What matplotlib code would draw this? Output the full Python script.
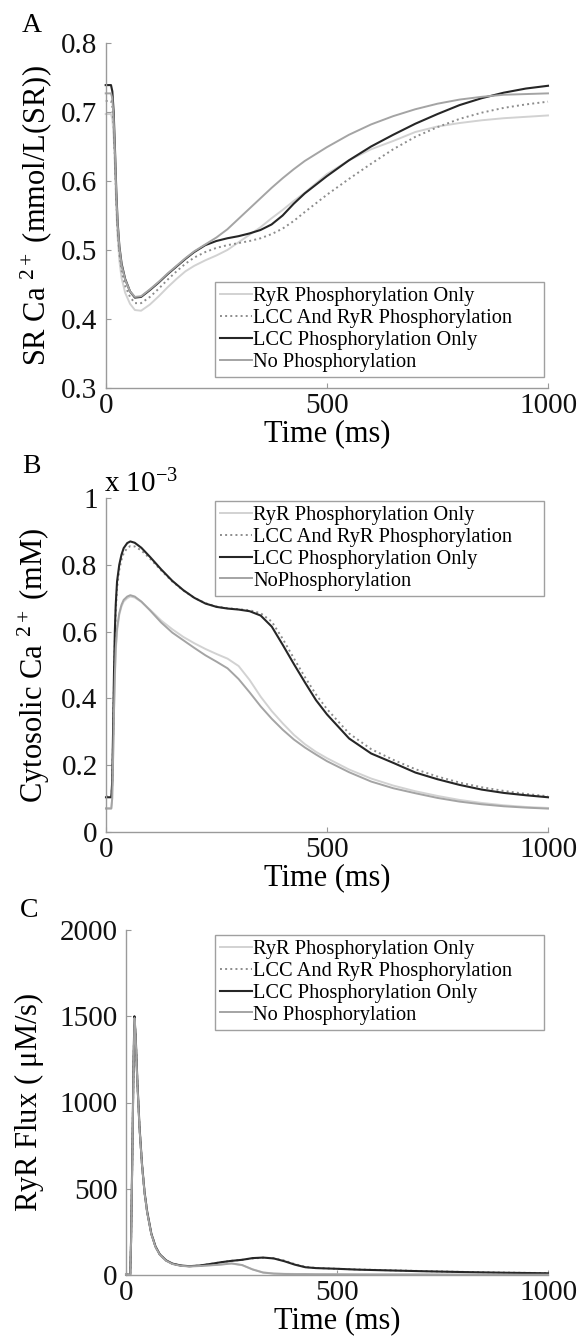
import matplotlib
matplotlib.use('Agg')
import matplotlib.pyplot as plt

plt.rcParams['font.family'] = ['Liberation Serif', 'DejaVu Serif']
plt.rcParams['mathtext.fontset'] = 'custom'
plt.rcParams['mathtext.rm'] = 'Liberation Serif'
plt.rcParams['mathtext.it'] = 'Liberation Serif:italic'
plt.rcParams['mathtext.bf'] = 'Liberation Serif:bold'

# ---------------- data ----------------
labels_A = ["RyR Phosphorylation Only", "LCC And RyR Phosphorylation",
            "LCC Phosphorylation Only", "No Phosphorylation"]
labels_B = ["RyR Phosphorylation Only", "LCC And RyR Phosphorylation",
            "LCC Phosphorylation Only", "NoPhosphorylation"]
labels_C = labels_A

# Panel A: SR Ca2+ (mmol/L(SR))
tA = [0, 12, 15, 18, 21, 24, 27, 31, 36, 44, 55, 66, 80, 100, 120, 140, 160, 180,
      200, 225, 250, 275, 300, 325, 350, 375, 400, 425, 450, 500, 550, 600, 650,
      700, 750, 800, 850, 900, 950, 1000]
sr_ryr = [0.697, 0.697, 0.690, 0.665, 0.620, 0.560, 0.518, 0.484, 0.459, 0.438, 0.422,
          0.413, 0.412, 0.421, 0.433, 0.446, 0.458, 0.469, 0.477, 0.485, 0.492, 0.500,
          0.511, 0.522, 0.533, 0.546, 0.558, 0.571, 0.583, 0.610, 0.630, 0.646, 0.658,
          0.671, 0.679, 0.684, 0.688, 0.691, 0.693, 0.695]
sr_both = [0.716, 0.716, 0.708, 0.680, 0.630, 0.570, 0.528, 0.494, 0.469, 0.448, 0.432,
           0.423, 0.423, 0.432, 0.444, 0.457, 0.469, 0.480, 0.489, 0.497, 0.503, 0.507,
           0.510, 0.513, 0.517, 0.523, 0.531, 0.542, 0.555, 0.580, 0.603, 0.625, 0.646,
           0.664, 0.678, 0.690, 0.699, 0.706, 0.711, 0.715]
sr_lcc = [0.739, 0.739, 0.730, 0.700, 0.645, 0.585, 0.540, 0.505, 0.480, 0.458, 0.440,
          0.431, 0.432, 0.442, 0.453, 0.465, 0.476, 0.487, 0.497, 0.507, 0.513, 0.517,
          0.520, 0.524, 0.529, 0.537, 0.550, 0.567, 0.582, 0.607, 0.630, 0.650, 0.667,
          0.683, 0.697, 0.710, 0.720, 0.728, 0.734, 0.738]
sr_none = [0.727, 0.727, 0.720, 0.690, 0.640, 0.580, 0.537, 0.503, 0.478, 0.457, 0.440,
           0.432, 0.433, 0.443, 0.454, 0.466, 0.477, 0.488, 0.498, 0.508, 0.518, 0.530,
           0.545, 0.560, 0.575, 0.590, 0.604, 0.617, 0.629, 0.649, 0.667, 0.682, 0.694,
           0.704, 0.712, 0.718, 0.722, 0.725, 0.726, 0.727]

# Panel B: cytosolic Ca2+ (x 10^-3 mM)
tB = [0, 12, 14, 16, 18, 20, 22, 25, 30, 35, 40, 48, 55, 65, 80, 100, 125, 150, 175,
      200, 225, 250, 275, 300, 325, 350, 375, 400, 425, 450, 475, 500, 550, 600, 650,
      700, 750, 800, 850, 900, 950, 1000]
cy_ryr = [0.072, 0.072, 0.100, 0.210, 0.350, 0.460, 0.540, 0.600, 0.650, 0.675, 0.690,
          0.700, 0.705, 0.702, 0.689, 0.665, 0.633, 0.607, 0.584, 0.565, 0.548, 0.533,
          0.519, 0.497, 0.455, 0.405, 0.362, 0.325, 0.291, 0.263, 0.240, 0.221, 0.187,
          0.160, 0.139, 0.122, 0.108, 0.096, 0.087, 0.080, 0.075, 0.072]
cy_both = [0.106, 0.106, 0.140, 0.280, 0.440, 0.570, 0.660, 0.730, 0.785, 0.815, 0.835,
           0.850, 0.856, 0.855, 0.843, 0.818, 0.783, 0.750, 0.723, 0.701, 0.685, 0.675,
           0.670, 0.667, 0.664, 0.655, 0.630, 0.578, 0.520, 0.464, 0.412, 0.368, 0.295,
           0.248, 0.216, 0.188, 0.166, 0.148, 0.134, 0.123, 0.114, 0.107]
cy_lcc = [0.104, 0.104, 0.150, 0.300, 0.470, 0.600, 0.680, 0.750, 0.800, 0.830, 0.850,
          0.865, 0.870, 0.866, 0.851, 0.823, 0.786, 0.752, 0.724, 0.701, 0.684, 0.674,
          0.669, 0.666, 0.661, 0.648, 0.615, 0.560, 0.503, 0.448, 0.395, 0.352, 0.280,
          0.235, 0.207, 0.178, 0.158, 0.141, 0.127, 0.117, 0.110, 0.104]
cy_none = [0.070, 0.070, 0.100, 0.220, 0.360, 0.470, 0.550, 0.610, 0.655, 0.680, 0.695,
           0.705, 0.709, 0.705, 0.690, 0.663, 0.627, 0.597, 0.574, 0.551, 0.529, 0.510,
           0.490, 0.458, 0.418, 0.376, 0.339, 0.306, 0.277, 0.253, 0.232, 0.212, 0.179,
           0.151, 0.131, 0.116, 0.102, 0.091, 0.083, 0.077, 0.073, 0.070]

# Panel C: RyR flux (uM/s)
tC = [0, 10, 12, 15, 18, 20, 23, 27, 32, 38, 44, 50, 60, 70, 80, 95, 110, 130, 150,
      175, 200, 225, 250, 275, 300, 325, 350, 375, 400, 425, 450, 500, 550, 600, 700,
      800, 900, 1000]
fx_ryr = [1, 1, 190, 680, 1230, 1490, 1370, 1110, 850, 635, 475, 365, 237, 162, 118,
          83, 64, 53, 50, 52, 57, 62, 66, 57, 33, 15, 9, 7, 6, 5, 5, 4, 4, 3, 3, 2, 2, 2]
fx_both = [2, 2, 195, 690, 1240, 1495, 1375, 1115, 855, 638, 478, 368, 239, 164, 119,
           84, 65, 54, 51, 55, 64, 74, 82, 88, 96, 100, 97, 84, 63, 47, 41, 36, 32, 29,
           23, 18, 14, 11]
fx_lcc = [2, 2, 200, 700, 1250, 1500, 1380, 1120, 860, 640, 480, 370, 240, 165, 120,
          85, 66, 55, 51, 55, 64, 74, 82, 88, 98, 101, 96, 80, 60, 45, 40, 36, 31, 28,
          22, 17, 13, 10]
fx_none = [1, 1, 190, 680, 1230, 1490, 1370, 1110, 850, 635, 475, 365, 237, 162, 118,
           83, 64, 53, 50, 52, 56, 60, 67, 58, 32, 14, 8, 6, 5, 5, 4, 4, 3, 3, 3, 2, 2, 2]

# ---------------- style ----------------
colors = ['#d2d2d2', '#8c8c8c', '#262626', '#a4a4a4']
styles = ['-', ':', '-', '-']
widths = [1.4, 1.4, 1.5, 1.4]
axis_color = '#9a9a9a'
tick_fs = 21
label_fs = 22
leg_fs = 14.7

W, H = 578, 1343
fig = plt.figure(figsize=(W / 100, H / 100), dpi=100)

def px_axes(l, r, t, b):
    return fig.add_axes([l / W, 1 - b / H, (r - l) / W, (b - t) / H])

axA = px_axes(105.7, 548, 43, 388)
axB = px_axes(106, 548, 498, 832)
axC = px_axes(126, 548, 930, 1275)

def style_axes(ax):
    for s in ['top', 'right']:
        ax.spines[s].set_visible(False)
    for s in ['left', 'bottom']:
        ax.spines[s].set_color(axis_color)
        ax.spines[s].set_linewidth(1.0)
    ax.tick_params(direction='in', length=3.5, width=0.8, color=axis_color,
                   labelsize=tick_fs, labelcolor='#111111')
    ax.tick_params(axis='y', pad=6)
    ax.tick_params(axis='x', pad=3.5)
    ax.set_xlim(0, 1000)
    ax.set_xticks([0, 500, 1000])
    ax.set_xticklabels(['0', '500', '1000'])
    ax.set_xlabel('Time (ms)', fontsize=label_fs, labelpad=0)

def draw(ax, t, ys, labels, leg_x0, leg_w, leg_top):
    for y, c, ls, lw, lab in zip(ys, colors, styles, widths, labels):
        ax.plot(t, y, color=c, linestyle=ls, linewidth=lw, label=lab, clip_on=False)
    leg = ax.legend(loc='upper left', bbox_to_anchor=(leg_x0, 0, leg_w, leg_top),
                    mode='expand', borderaxespad=0, fontsize=leg_fs, frameon=True,
                    fancybox=False, edgecolor='#a0a0a0', framealpha=1,
                    handlelength=1.55, handletextpad=0.08, labelspacing=0.12,
                    borderpad=0.25)
    leg.get_frame().set_linewidth(1.0)

# Panel A
style_axes(axA)
draw(axA, tA, [sr_ryr, sr_both, sr_lcc, sr_none], labels_A, 0.247, 0.744, 0.307)
axA.set_ylim(0.3, 0.8)
axA.set_yticks([0.3, 0.4, 0.5, 0.6, 0.7, 0.8])
axA.set_yticklabels(['0.3', '0.4', '0.5', '0.6', '0.7', '0.8'])
axA.set_ylabel(r'SR Ca $^{2+}$ (mmol/L(SR))', fontsize=label_fs)
axA.yaxis.set_label_coords(-0.118, 0.5)

# Panel B
style_axes(axB)
draw(axB, tB, [cy_ryr, cy_both, cy_lcc, cy_none], labels_B, 0.2466, 0.744, 0.991)
axB.set_ylim(0, 1)
axB.set_yticks([0, 0.2, 0.4, 0.6, 0.8, 1])
axB.set_yticklabels(['0', '0.2', '0.4', '0.6', '0.8', '1'])
axB.set_ylabel(r'Cytosolic Ca $^{2+}$ (mM)', fontsize=label_fs)
axB.yaxis.set_label_coords(-0.122, 0.5)
axB.text(-0.005, 1.0, r'x 10$^{-3}$', transform=axB.transAxes, fontsize=tick_fs,
         ha='left', va='bottom')

# Panel C
style_axes(axC)
draw(axC, tC, [fx_ryr, fx_both, fx_lcc, fx_none], labels_C, 0.211, 0.780, 0.9855)
axC.set_ylim(0, 2000)
axC.set_yticks([0, 500, 1000, 1500, 2000])
axC.set_yticklabels(['0', '500', '1000', '1500', '2000'])
axC.set_ylabel(r'RyR Flux ( $\mathrm{\mu}$M/s)', fontsize=label_fs)
axC.yaxis.set_label_coords(-0.19, 0.5)

# Panel letters
fig.text(22 / W, 1 - 32 / H, 'A', fontsize=20, va='baseline', ha='left')
fig.text(22 / W, 1 - 473 / H, 'B', fontsize=20, va='baseline', ha='left')
fig.text(20 / W, 1 - 917 / H, 'C', fontsize=20, va='baseline', ha='left')

fig.savefig('out.png', dpi=100)
